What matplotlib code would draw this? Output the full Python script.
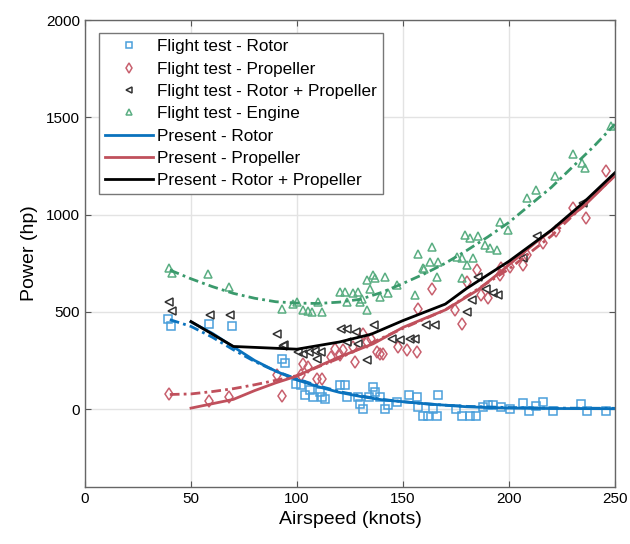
import numpy as np
import matplotlib
matplotlib.use('Agg')
import matplotlib.pyplot as plt

plt.rcParams['font.family'] = ['Liberation Sans', 'DejaVu Sans']

# flight test points
rotor_x = [39.3, 40.6, 58.6, 69.2, 92.8, 94.3, 99.5, 102, 103.8, 106,
           107.5, 110.8, 112, 113, 120.3, 122.6, 123.4, 129, 129.7, 131,
           134, 136, 136.8, 139, 141.5, 143, 147, 153, 156.5, 157,
           159.5, 162, 164, 166, 166.5, 175, 178, 181.6, 184.7, 187.8,
           190, 192.6, 196.5, 200.5, 206.5, 209.5, 213, 216, 220.8, 234,
           237, 246]
rotor_y = [465, 428, 436, 428, 258, 238, 129, 122, 71, 97,
           60, 86, 60, 52, 124, 124, 60, 60, 26, 0,
           60, 112, 86, 60, 0, 19, 35, 71, 60, 9,
           -33, -33, 0, -33, 71, 0, -33, -33, -33, 9,
           19, 19, 10, 0, 30, -9, 15, 35, -9, 25,
           -9, -9]

prop_x = [39.8, 58.6, 68, 90.4, 92.8, 102, 102.8, 105, 109.3, 111.6,
          116, 118, 120.3, 121.7, 126.4, 127.4, 131, 132.9, 135, 137.6,
          139, 140.7, 147.6, 151.7, 156.5, 157, 163.5, 174.5, 178, 180,
          185, 186.6, 190, 196, 196.5, 200.5, 206.6, 208.3, 216, 222,
          230.2, 236.3, 246]
prop_y = [78, 43, 60, 176, 69, 173, 233, 216, 155, 155,
          267, 310, 276, 302, 319, 241, 388, 345, 362, 293,
          284, 284, 319, 302, 293, 515, 618, 510, 440, 655,
          717, 588, 569, 690, 724, 733, 743, 794, 853, 914,
          1034, 982, 1224]

rp_x = [39.8, 40.9, 59, 68.5, 90.4, 93.5, 94, 100.5, 103, 105.6,
        108.5, 109.3, 111.5, 121, 123.7, 123.4, 128, 128.8, 133, 136.5,
        144.7, 148.6, 153.3, 155.7, 161, 165, 180, 182.4, 185.5, 189.4,
        192.6, 195, 206.8, 213.4, 235]
rp_y = [552, 505, 486, 483, 388, 324, 329, 293, 284, 293,
        300, 258, 293, 410, 410, 345, 396, 336, 250, 434,
        362, 354, 362, 362, 431, 431, 500, 560, 681, 620,
        595, 586, 776, 888, 1060]

eng_x = [39.8, 40.9, 58.2, 68, 92.8, 98.3, 99.9, 102.8, 105, 107,
         110, 111.6, 120.3, 122.6, 123.4, 126.5, 128.8, 129.7, 130.7, 133,
         133, 134.5, 136, 136.8, 139, 141.5, 143, 147, 155.7, 157.2,
         159.6, 160, 163, 163.7, 166, 166.7, 175.3, 177.7, 178, 179.2,
         180, 181.6, 183, 185.5, 188.7, 191, 194.3, 195.8, 199.7, 208.3,
         213, 221.7, 230.3, 234.3, 236, 248.4]
eng_y = [727, 698, 693, 629, 517, 538, 552, 509, 504, 500,
         552, 500, 603, 603, 552, 595, 603, 552, 567, 509,
         664, 620, 690, 672, 578, 681, 595, 638, 586, 795,
         724, 720, 758, 836, 681, 758, 784, 676, 779, 897,
         741, 879, 779, 888, 845, 828, 819, 960, 920, 1086,
         1129, 1198, 1313, 1267, 1241, 1457]

# present model curves
pres_rotor_x = [50, 60, 70, 80, 90, 100, 110, 120, 130, 140, 150, 160, 170, 180, 190, 200, 220, 250]
pres_rotor_y = [448, 390, 320, 250, 195, 150, 115, 86, 65, 48, 38, 28, 20, 12, 8, 5, 3, 2]
pres_prop_x = [50, 70, 80, 90, 100, 110, 120, 136, 150, 170, 185, 196, 213, 235, 250]
pres_prop_y = [5, 50, 95, 135, 170, 220, 268, 336, 420, 510, 610, 705, 860, 1040, 1200]
pres_rp_x = [50, 70, 100, 120, 135, 150, 170, 180, 200, 220, 235, 250]
pres_rp_y = [450, 322, 308, 345, 385, 455, 540, 620, 760, 920, 1060, 1215]

# fits to flight test
fit_rotor_x = [40, 50, 60, 70, 80, 90, 100, 110, 120, 130, 140, 150, 160, 170, 180, 200, 220, 250]
fit_rotor_y = [460, 425, 370, 305, 245, 195, 155, 120, 90, 68, 50, 38, 28, 20, 14, 8, 5, 4]
fit_prop_x = [40, 50, 60, 70, 80, 90, 100, 120, 140, 150, 170, 200, 220, 250]
fit_prop_y = [75, 78, 90, 105, 125, 148, 172, 262, 365, 415, 510, 720, 890, 1200]
fit_eng_x = [40, 50, 60, 70, 80, 90, 100, 110, 120, 130, 140, 150, 160, 170, 180,
             190, 200, 210, 220, 230, 240, 250]
fit_eng_y = [715, 670, 630, 595, 570, 552, 545, 543, 550, 565, 600, 646, 695, 750, 815,
             885, 960, 1050, 1140, 1245, 1350, 1465]

blue = '#0a72bd'
red = '#c0505c'
green = '#3a9a6c'
blue_m = '#4a9fdb'
red_m = '#c8606e'
green_m = '#5aae82'
dashdot = (0, (3.5, 1.5, 1, 1.5))

fig = plt.figure(figsize=(6.3, 5.44), dpi=100)
ax = fig.add_axes([0.135, 0.105, 0.841, 0.858])

ax.plot(rotor_x, rotor_y, 's', mfc='none', mec=blue_m, ms=5.8, mew=1.1, label='Flight test - Rotor')
ax.plot(prop_x, prop_y, 'd', mfc='none', mec=red_m, ms=6.3, mew=1.1, label='Flight test - Propeller')
ax.plot(rp_x, rp_y, '<', mfc='none', mec='#333333', ms=6.3, mew=1.1, label='Flight test - Rotor + Propeller')
ax.plot(eng_x, eng_y, '^', mfc='none', mec=green_m, ms=6.3, mew=1.1, label='Flight test - Engine')

ax.plot(fit_rotor_x, fit_rotor_y, color=blue, lw=2, ls=dashdot)
ax.plot(fit_prop_x, fit_prop_y, color=red, lw=2, ls=dashdot)
ax.plot(fit_eng_x, fit_eng_y, color=green, lw=2, ls=dashdot)

ax.plot(pres_rotor_x, pres_rotor_y, color=blue, lw=2, label='Present - Rotor')
ax.plot(pres_prop_x, pres_prop_y, color=red, lw=2, label='Present - Propeller')
ax.plot(pres_rp_x, pres_rp_y, color='black', lw=2, label='Present - Rotor + Propeller')

ax.set_xlim(0, 250)
ax.set_ylim(-400, 2000)
ax.set_xticks([0, 50, 100, 150, 200, 250])
ax.set_yticks([0, 500, 1000, 1500, 2000])
ax.grid(True, color='#e3e3e3', lw=1)
ax.set_axisbelow(True)
ax.tick_params(direction='in', top=True, right=True, labelsize=11, length=4, color='#555555')
for s in ax.spines.values():
    s.set_color('#666666')
    s.set_linewidth(1)

ax.set_xlabel('Airspeed (knots)', fontsize=14, labelpad=4)
ax.set_ylabel('Power (hp)', fontsize=14, labelpad=6)

leg = ax.legend(loc='upper left', bbox_to_anchor=(0.026, 0.972), borderaxespad=0,
                fontsize=12.3, fancybox=False, edgecolor='#777777', framealpha=1,
                handlelength=2.8, handletextpad=0.25, labelspacing=0.43, borderpad=0.35,
                markerscale=0.75)
leg.get_frame().set_linewidth(1)

fig.savefig('out.png', dpi=100)
